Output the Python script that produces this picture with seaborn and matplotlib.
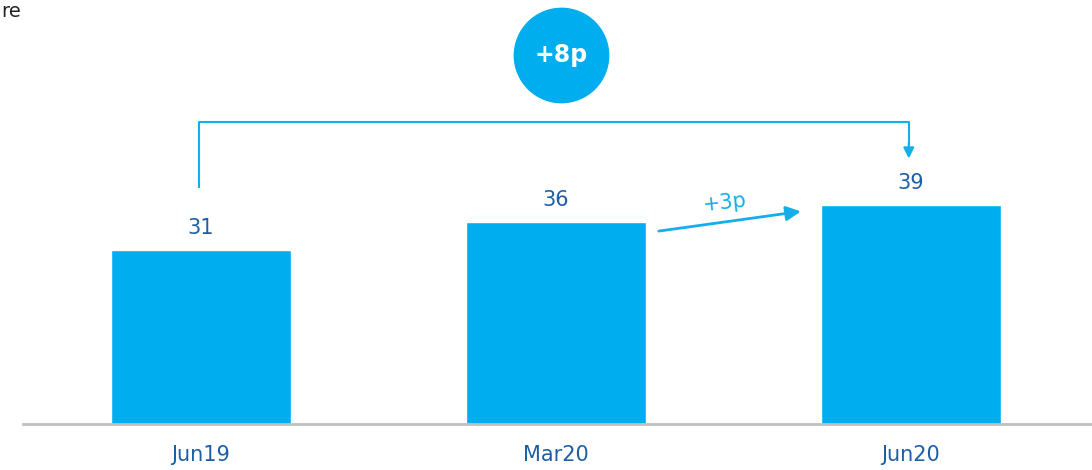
import pandas as pd
import matplotlib.pyplot as plt
import seaborn as sns

# === DADOS ===
periodos = ["Jun19", "Mar20", "Jun20"]
valores = [31, 36, 39]
delta_total = "+8p"
delta_parcial = "+3p"

df = pd.DataFrame({"Periodo": periodos, "Valor": valores})

# === CORES ===
azul_barra = "#00adef"
azul_linha = "#14aeea"
azul_texto = "#1d5fa6"

sns.set_style("white")
plt.rcParams["font.family"] = ["DejaVu Sans"]

fig = plt.figure(figsize=(10.92, 4.70), dpi=100)
ax = fig.add_axes([0.021, 0.098, 0.979, 0.902])

sns.barplot(data=df, x="Periodo", y="Valor", color=azul_barra, saturation=1,
            width=0.507, ax=ax)

ax.set_xlim(-0.501, 2.51)
ax.set_ylim(0, 75.4)
ax.set_xlabel("")
ax.set_ylabel("")
ax.set_yticks([])
ax.tick_params(axis="x", length=0, pad=15, labelsize=15, labelcolor=azul_texto)
for s in ["top", "right", "left"]:
    ax.spines[s].set_visible(False)
ax.spines["bottom"].set_color("#bfbfbf")
ax.spines["bottom"].set_linewidth(2)

# rótulos de valor
for i, v in enumerate(valores):
    ax.text(i, v + 2.0, str(v), ha="center", va="bottom", fontsize=15, color=azul_texto)

# colchete Jun19 -> Jun20
ax.plot([-0.006, -0.006, 1.994, 1.994], [42.0, 53.7, 53.7, 49.5],
        color=azul_linha, lw=1.5, solid_capstyle="butt")
ax.annotate("", xy=(1.994, 47.2), xytext=(1.994, 50.0),
            arrowprops=dict(arrowstyle="-|>", color=azul_linha, lw=1.5,
                            mutation_scale=16, shrinkA=0, shrinkB=0))

# círculo +8p
ax.scatter([1.014], [65.7], s=4750, color=azul_barra, zorder=5, linewidths=0)
ax.text(1.014, 65.7, delta_total, ha="center", va="center", fontsize=17,
        fontweight="bold", color="white", zorder=6)

# seta Mar20 -> Jun20
ax.annotate("", xy=(1.69, 37.8), xytext=(1.29, 34.3),
            arrowprops=dict(arrowstyle="-|>", color=azul_linha, lw=2,
                            mutation_scale=22, shrinkA=0, shrinkB=0))
ax.text(1.475, 39.4, delta_parcial, ha="center", va="center", fontsize=15,
        color=azul_linha, rotation=6)

# texto no canto
fig.text(0.001, 0.975, "re", ha="left", va="center", fontsize=14, color="#222222")

fig.savefig("out.png", dpi=100)
